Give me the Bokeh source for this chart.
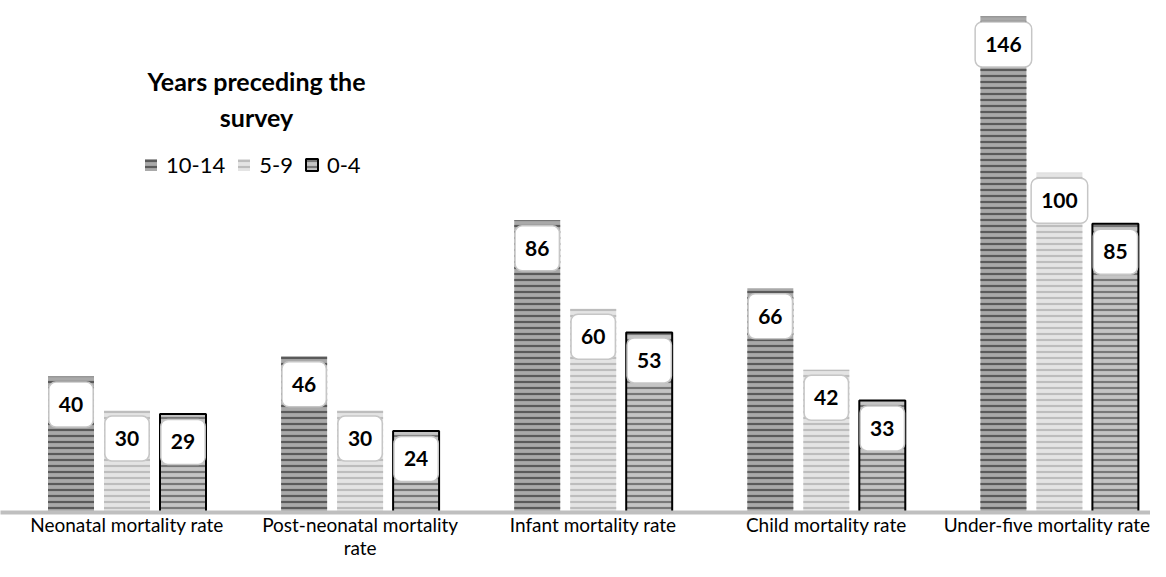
import textwrap
from bokeh.plotting import figure
from bokeh.models import (ColumnDataSource, Range1d, FixedTicker, Label,
                          Legend, LegendItem)
from bokeh.embed import file_html
from bokeh.resources import INLINE

categories = ["Neonatal mortality rate", "Post-neonatal mortality rate",
              "Infant mortality rate", "Child mortality rate",
              "Under-five mortality rate"]
series_names = ["10-14", "5-9", "0-4"]
years_10_14 = [40, 46, 86, 66, 146]
years_5_9 = [30, 30, 60, 42, 100]
years_0_4 = [29, 24, 53, 33, 85]
legend_title = ["Years preceding the", "survey"]

FONT = "Lato"
W, H = 1150, 561
FRAME_H = 512

p = figure(width=W, height=H, output_backend="svg", toolbar_location=None,
           x_range=Range1d(-0.5427, 4.3908), y_range=Range1d(0, 150.7),
           y_axis_location=None, min_border_left=0, min_border_right=0,
           min_border_top=0, min_border_bottom=H - FRAME_H)
p.outline_line_color = None
p.xgrid.visible = False
p.ygrid.visible = False
p.background_fill_color = "white"

styles = [
    dict(fill_color="#a9a9a9", hatch_color="#5a5a5a", line_color=None),
    dict(fill_color="#e4e4e4", hatch_color="#bdbdbd", line_color=None),
    dict(fill_color="#c4c4c4", hatch_color="#777777", line_color="black", line_width=2),
]
offsets = [-0.2402, 0.0, 0.2402]
bw = 0.1973
series = [years_10_14, years_5_9, years_0_4]

renderers = []
for vals, off, st, name in zip(series, offsets, styles, series_names):
    xs = [i + off for i in range(len(vals))]
    src = ColumnDataSource(dict(x=xs, top=vals))
    r = p.vbar(x="x", top="top", bottom=0, width=bw, source=src,
               hatch_pattern="horizontal_line", hatch_scale=6, hatch_weight=2.2,
               **st)
    renderers.append((name, r))
    for xv, v in zip(xs, vals):
        p.add_layout(Label(x=xv, y=v, text=str(v), y_offset=-28,
                           text_align="center", text_baseline="middle",
                           text_font=FONT, text_font_style="bold",
                           text_font_size="21px", text_color="black",
                           background_fill_color="white", border_line_color="#c6c6c6",
                           border_line_width=1.5, padding=(10, 15),
                           border_radius=7))

# wrap category names like the original
wrapped = ["\n".join(textwrap.wrap(c, 25)) for c in categories]

ax = p.xaxis[0]
ax.ticker = FixedTicker(ticks=list(range(len(categories))))
ax.major_label_overrides = {i: w for i, w in enumerate(wrapped)}
ax.axis_line_color = "#bfbfbf"
ax.axis_line_width = 4
ax.major_tick_line_color = None
ax.minor_tick_line_color = None
ax.major_tick_out = 0
ax.major_tick_in = 0
ax.major_label_standoff = 0
ax.major_label_text_font = FONT
ax.major_label_text_font_size = "19px"
ax.major_label_text_line_height = 1.0
ax.major_label_text_color = "black"

legend = Legend(items=[LegendItem(label=n, renderers=[r]) for n, r in renderers],
                orientation="horizontal", location=(143, 334),
                glyph_width=15, glyph_height=15, label_standoff=8, spacing=11,
                padding=0, margin=0, border_line_color=None,
                background_fill_alpha=0, label_text_font=FONT,
                label_text_font_size="22px", label_height=26,
                label_text_color="black")
p.add_layout(legend)

for txt, yy in zip(legend_title, [432, 396]):
    p.add_layout(Label(x=256, y=yy, x_units="screen", y_units="screen", text=txt,
                       text_align="center", text_baseline="middle",
                       text_font=FONT, text_font_style="bold",
                       text_font_size="25px", text_color="black"))

open("out.html", "w").write(file_html(p, INLINE))
